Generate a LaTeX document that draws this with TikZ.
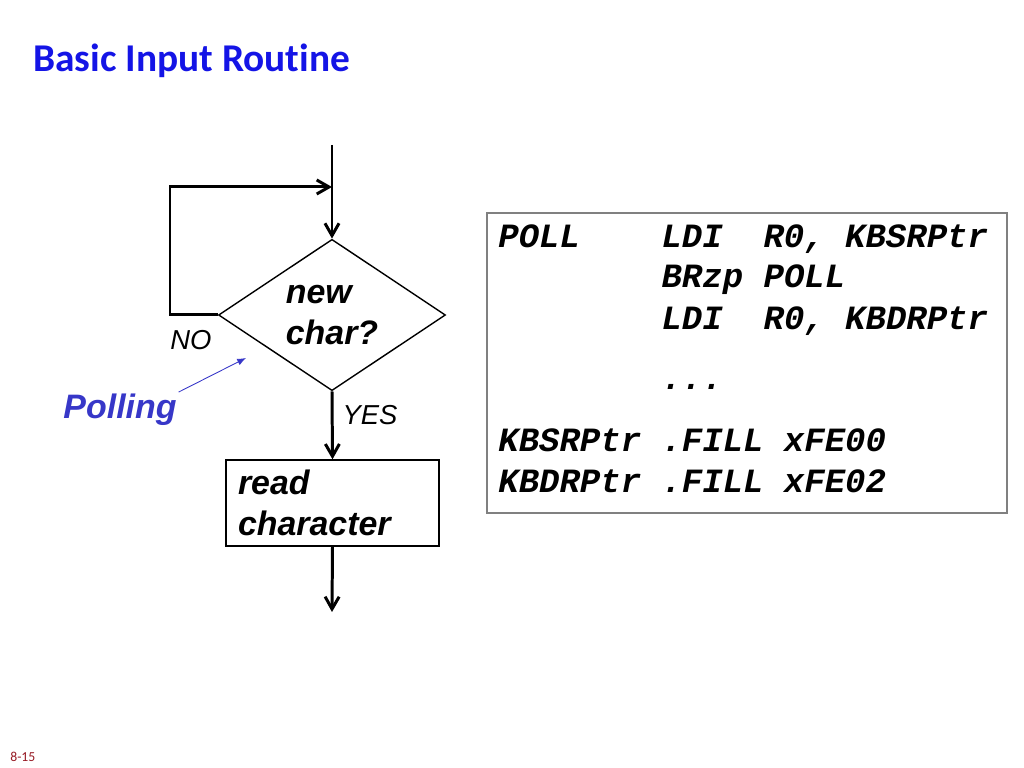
\documentclass[tikz,border=0pt]{standalone}
\usepackage{fontspec}
\setmainfont{Liberation Sans}
\setmonofont{Liberation Mono}
\newfontfamily\calibri[Ligatures=NoCommon]{Carlito}
\usetikzlibrary{shapes.geometric, arrows.meta, positioning}
\definecolor{titleblue}{RGB}{20,20,230}
\definecolor{pollblue}{RGB}{55,55,200}
\definecolor{pagered}{RGB}{150,25,35}
\definecolor{codegray}{RGB}{128,128,128}

\begin{document}
\begin{tikzpicture}[
flow/.style={line width=1.7pt, -{Straight Barb[length=7pt,width=8pt]}},
decision/.style={diamond, draw, line width=0.8pt, minimum width=4.54cm, minimum height=3cm, inner sep=0pt, align=left},
process/.style={rectangle, draw, line width=0.8pt, minimum width=4.26cm, minimum height=1.72cm, text width=3.78cm, inner xsep=0.24cm, align=left},
bigtxt/.style={font=\fontsize{19.3}{23}\selectfont\bfseries\itshape},
smalltxt/.style={font=\fontsize{15.6}{18}\selectfont\itshape},
codeline/.style={anchor=base west, inner sep=0pt, font=\fontsize{19.35}{22}\selectfont\ttfamily\bfseries\itshape}]
\useasboundingbox (0,0) rectangle (20.48,15.36);
\node[anchor=base west, inner sep=0pt, text=titleblue, font=\calibri\fontsize{22.4}{26}\selectfont\bfseries] (title) at (0.66,13.92) {Basic Input Routine};

\coordinate (start) at (6.64,12.46);
\coordinate (merge) at (6.64,11.62);
\coordinate (loop) at (3.4,11.62);
\node[decision, bigtxt] (newchar) at (6.64,9.06) {new\\char?};
\node[process, bigtxt] (read) at (6.65,5.30) {read\\character};
\coordinate (out) at (6.64,3.12);

\draw[flow] (start) -- (newchar.north);
\draw[flow] (newchar.west) -| (loop) -- (merge);
\draw[flow] (newchar.south) -- (read.north);
\draw[flow] (read.south) -- (out);

\node[smalltxt] (no) at (3.82,8.56) {NO};
\node[smalltxt] (yes) at (7.4,7.06) {YES};

\node[bigtxt, text=pollblue, inner sep=1pt] (polling) at (2.4,7.16) {Polling};
\coordinate (pollhint) at (4.92,8.2);
\draw[pollblue, line width=0.5pt, -{Latex[length=5pt,width=4pt]}] (polling.north east) -- (pollhint);

\node[draw=codegray, line width=0.8pt, minimum width=10.4cm, minimum height=6cm] (codebox) at (14.94,8.1) {};
\node[codeline] (c1) at (9.96,10.4) {POLL~~~~LDI~~R0,~KBSRPtr};
\node[codeline] (c2) at (9.96,9.6) {~~~~~~~~BRzp~POLL};
\node[codeline] (c3) at (9.96,8.76) {~~~~~~~~LDI~~R0,~KBDRPtr};
\node[codeline] (c4) at (9.96,7.56) {~~~~~~~~...};
\node[codeline] (c5) at (9.96,6.32) {KBSRPtr~.FILL~xFE00};
\node[codeline] (c6) at (9.96,5.5) {KBDRPtr~.FILL~xFE02};

\node[anchor=base west, inner sep=0pt, text=pagered, font=\calibri\fontsize{7.8}{9}\selectfont] (pagenum) at (0.2,0.12) {8-15};
\end{tikzpicture}
\end{document}
